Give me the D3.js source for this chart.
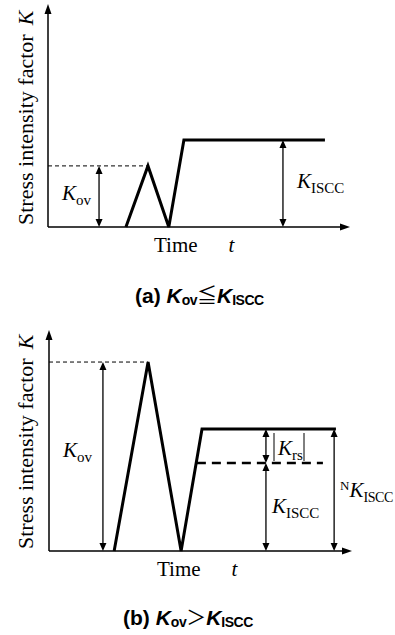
<!DOCTYPE html>
<html>
<head>
<meta charset="utf-8">
<script src="https://cdn.jsdelivr.net/npm/d3@7/dist/d3.min.js"></script>
<style>
  html, body { margin: 0; padding: 0; background: #fff; }
  svg { display: block; }
  .serif { font-family: "Liberation Serif", "Times New Roman", serif; }
  .sans { font-family: "Liberation Sans", Arial, sans-serif; }
</style>
</head>
<body>
<svg id="chart" width="395" height="635"></svg>
<script>
// ---- values (time t and stress intensity K in arbitrary units, 0..10) ----
// Panel (a): K_ov <= K_ISCC
const aLoadT = [2.58, 3.31, 4.0, 4.5, 9.17];
const aLoadK = [0, 2.74, 0, 3.9, 3.9];
const aKov = 2.74;
const aKiscc = 3.9;
const aKovArrowT = 1.69;
const aKisccArrowT = 7.78;

// Panel (b): K_ov > K_ISCC
const bLoadT = [2.15, 3.27, 4.36, 5.05, 9.47];
const bLoadK = [0, 8.55, 0, 5.52, 5.52];
const bKov = 8.55;
const bNKiscc = 5.52;
const bKiscc = 3.98;
const bThresholdT = [4.88, 9.04];
const bKovArrowT = 1.78;
const bKrsArrowT = 7.16;
const bNKisccArrowT = 9.41;

const axisLabelY = "Stress intensity factor";
const axisLabelX = "Time";
const panelTitles = [
  { tag: "(a) ", rel: "≦" },
  { tag: "(b) ", rel: "＞" }
];

const svg = d3.select("#chart");

function arrowHead(g, x, y, dir, len, half) {
  // dir: "up", "down", "right"
  let p;
  if (dir === "up") p = [[x, y], [x - half, y + len], [x + half, y + len]];
  else if (dir === "down") p = [[x, y], [x - half, y - len], [x + half, y - len]];
  else p = [[x, y], [x - len, y - half], [x - len, y + half]];
  g.append("path").attr("d", d3.line()(p) + "Z").attr("fill", "#000");
}

function dimArrow(g, x, y1, y2) {
  // double-headed vertical dimension arrow between y1 (top) and y2 (bottom)
  g.append("line").attr("x1", x).attr("x2", x).attr("y1", y1 + 2).attr("y2", y2 - 2)
    .attr("stroke", "#000").attr("stroke-width", 1.3);
  arrowHead(g, x, y1, "up", 8, 3.5);
  arrowHead(g, x, y2, "down", 8, 3.5);
}

function kLabel(g, x, y, sub, opts = {}) {
  const t = g.append("text").attr("class", "serif").attr("x", x).attr("y", y)
    .attr("font-size", 21);
  if (opts.sup) {
    t.append("tspan").attr("font-size", 13).attr("dy", -7).text(opts.sup);
    t.append("tspan").attr("dy", 7).attr("font-style", "italic").text("K");
  } else {
    t.append("tspan").attr("font-style", "italic").text("K");
  }
  t.append("tspan").attr("font-size", opts.subSize || 15).attr("dy", 5)
    .attr("letter-spacing", opts.subSpacing || 0).text(sub);
  return t;
}

function title(x, y, spec) {
  const t = svg.append("text").attr("class", "sans").attr("font-size", 21).attr("font-weight", "bold")
    .attr("x", x).attr("y", y);
  t.append("tspan").text(spec.tag);
  t.append("tspan").attr("font-style", "italic").text("K");
  t.append("tspan").attr("font-size", 14).attr("dy", 2).attr("letter-spacing", -0.5).text("ov");
  t.append("tspan").attr("dy", -2).attr("font-weight", "normal")
    .attr("font-family", "Noto Sans CJK JP").attr("font-size", 20).text(spec.rel);
  t.append("tspan").attr("font-style", "italic").text("K");
  t.append("tspan").attr("font-size", 14).attr("dy", 2).attr("letter-spacing", -0.5).text("ISCC");
}

function panel(cfg) {
  const g = svg.append("g");
  const x = d3.scaleLinear().domain([0, 10]).range(cfg.xRange);
  const y = d3.scaleLinear().domain([0, 10]).range(cfg.yRange);
  const x0 = x(0), y0 = y(0);

  // axes with arrowheads
  g.append("line").attr("x1", x0).attr("x2", x0).attr("y1", y0).attr("y2", y(10) + 4)
    .attr("stroke", "#000").attr("stroke-width", 1.5);
  arrowHead(g, x0, y(10), "up", 10, 3.5);
  g.append("line").attr("x1", x0).attr("x2", x(10) - 4).attr("y1", y0).attr("y2", y0)
    .attr("stroke", "#000").attr("stroke-width", 1.5);
  arrowHead(g, x(10), y0, "right", 10, 3.5);

  // axis titles
  const yl = g.append("text").attr("class", "serif").attr("font-size", 22)
    .attr("transform", `translate(${cfg.yLabelX},${y0 - 2}) rotate(-90)`);
  yl.append("tspan").text(axisLabelY);
  yl.append("tspan").attr("font-style", "italic").attr("dx", 9).text("K");

  const xl = g.append("text").attr("class", "serif").attr("font-size", 21)
    .attr("x", cfg.timeX).attr("y", y0 + 25);
  xl.append("tspan").text(axisLabelX);
  xl.append("tspan").attr("font-style", "italic").attr("dx", 31).text("t");

  return { g, x, y };
}

// ---------- Panel (a) ----------
{
  const { g, x, y } = panel({ xRange: [48, 350], yRange: [227, 4], yLabelX: 33, timeX: 154 });
  // peak reference
  g.append("line").attr("x1", x(0)).attr("x2", x(aLoadT[1])).attr("y1", y(aKov)).attr("y2", y(aKov))
    .attr("stroke", "#000").attr("stroke-width", 1).attr("stroke-dasharray", "4,3");
  const pts = aLoadT.map((t, i) => [x(t), y(aLoadK[i])]);
  g.append("path").attr("d", d3.line()(pts)).attr("fill", "none").attr("stroke", "#000")
    .attr("stroke-width", 3).attr("stroke-linejoin", "miter");
  dimArrow(g, x(aKovArrowT), y(aKov), y(0));
  dimArrow(g, x(aKisccArrowT), y(aKiscc), y(0));
  kLabel(g, 62, 200, "ov");
  kLabel(g, 297, 188, "ISCC");
  title(135, 303, panelTitles[0]);
}

// ---------- Panel (b) ----------
{
  const { g, x, y } = panel({ xRange: [49, 352], yRange: [551, 330], yLabelX: 33, timeX: 157 });
  g.append("line").attr("x1", x(0)).attr("x2", x(bLoadT[1])).attr("y1", y(bKov)).attr("y2", y(bKov))
    .attr("stroke", "#000").attr("stroke-width", 1).attr("stroke-dasharray", "4,3");
  const pts = bLoadT.map((t, i) => [x(t), y(bLoadK[i])]);
  g.append("path").attr("d", d3.line()(pts)).attr("fill", "none").attr("stroke", "#000")
    .attr("stroke-width", 3).attr("stroke-linejoin", "miter");
  g.append("line").attr("x1", x(bThresholdT[0])).attr("x2", x(bThresholdT[1]))
    .attr("y1", y(bKiscc)).attr("y2", y(bKiscc))
    .attr("stroke", "#000").attr("stroke-width", 2.5).attr("stroke-dasharray", "9,6");
  dimArrow(g, x(bKovArrowT), y(bKov), y(0));
  dimArrow(g, x(bKrsArrowT), y(bNKiscc), y(bKiscc));
  dimArrow(g, x(bKrsArrowT), y(bKiscc), y(0));
  dimArrow(g, x(bNKisccArrowT), y(bNKiscc), y(0));
  kLabel(g, 63, 457, "ov");
  kLabel(g, 272, 513, "ISCC");
  kLabel(g, 340, 497, "ISCC", { sup: "N", subSize: 14, subSpacing: -0.4 });
  // |K_rs|
  g.append("line").attr("x1", 274).attr("x2", 274).attr("y1", 433).attr("y2", 461).attr("stroke", "#000").attr("stroke-width", 1);
  g.append("line").attr("x1", 304).attr("x2", 304).attr("y1", 433).attr("y2", 461).attr("stroke", "#000").attr("stroke-width", 1);
  kLabel(g, 278, 455, "rs");
  title(123, 625, panelTitles[1]);
}
</script>
</body>
</html>
